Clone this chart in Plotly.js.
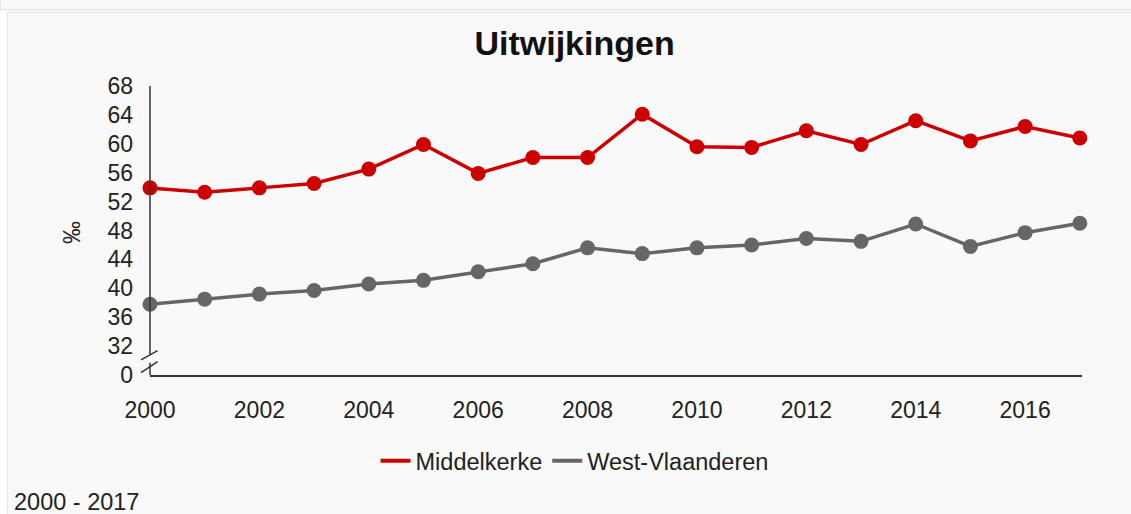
<!DOCTYPE html>
<html>
<head>
<meta charset="utf-8">
<script src="https://cdn.plot.ly/plotly-3.0.1.min.js"></script>
<style>
  html, body { margin: 0; padding: 0; background: #ffffff; width: 1131px; height: 514px; overflow: hidden; }
  #topstrip { position: absolute; left: 0; top: -12px; width: 1140px; height: 20px; background: #f9f9f9; border: 1px solid #e6e6e6; box-shadow: 0 1px 2px rgba(0,0,0,0.06); }
  #panel { position: absolute; left: 7px; top: 12px; width: 1140px; height: 520px; background: #f9f9f9; border: 1px solid #e6e6e6; box-shadow: 0 0 2px rgba(0,0,0,0.06); }
  #chart { position: absolute; left: 0; top: 0; width: 1131px; height: 514px; }
</style>
</head>
<body>
<div id="topstrip"></div>
<div id="panel"></div>
<div id="chart"></div>
<script>
const years = [2000, 2001, 2002, 2003, 2004, 2005, 2006, 2007, 2008, 2009, 2010, 2011, 2012, 2013, 2014, 2015, 2016, 2017];
const middelkerke = [53.9, 53.3, 53.9, 54.5, 56.5, 59.9, 55.9, 58.1, 58.1, 64.1, 59.6, 59.5, 61.8, 59.9, 63.2, 60.4, 62.4, 60.8];
const westVlaanderen = [37.8, 38.5, 39.2, 39.7, 40.6, 41.1, 42.3, 43.4, 45.6, 44.8, 45.6, 46.0, 46.9, 46.5, 48.9, 45.8, 47.7, 49.0];
const yTickVals = [28, 32, 36, 40, 44, 48, 52, 56, 60, 64, 68];
const yTickText = ['0', '32', '36', '40', '44', '48', '52', '56', '60', '64', '68'];
const seriesNames = ['Middelkerke', 'West-Vlaanderen'];
const titleText = 'Uitwijkingen';
const unitText = '‰';
const periodText = '2000 - 2017';

const FONT = '"Liberation Sans", Arial, sans-serif';
const RED = '#cc0000';
const GREY = '#666666';
const AXIS = '#333333';

const traces = [
  { x: years, y: middelkerke, name: seriesNames[0], type: 'scatter', mode: 'lines+markers', showlegend: false,
    line: { color: RED, width: 3.5 }, marker: { color: RED, size: 15 }, cliponaxis: false },
  { x: years, y: westVlaanderen, name: seriesNames[1], type: 'scatter', mode: 'lines+markers', showlegend: false,
    line: { color: GREY, width: 3.5 }, marker: { color: GREY, size: 15 }, cliponaxis: false },
  // legend entries (line only, as in the reference legend)
  { x: [null], y: [null], name: seriesNames[0], type: 'scatter', mode: 'lines', line: { color: RED, width: 4 } },
  { x: [null], y: [null], name: seriesNames[1], type: 'scatter', mode: 'lines', line: { color: GREY, width: 4 } }
];

const layout = {
  width: 1131, height: 514,
  paper_bgcolor: 'rgba(0,0,0,0)', plot_bgcolor: 'rgba(0,0,0,0)',
  margin: { l: 150, r: 49, t: 86, b: 139 },
  font: { family: FONT, size: 23, color: '#222222' },
  title: { text: '<b>' + titleText + '</b>', font: { family: FONT, size: 34, color: '#111111' },
           xref: 'container', x: 0.508, xanchor: 'center', yref: 'container', y: 1 - 43 / 514, yanchor: 'middle' },
  showlegend: true,
  legend: { orientation: 'h', xref: 'container', x: 0.508, xanchor: 'center', yref: 'container', y: 1 - 461 / 514, yanchor: 'middle',
            font: { family: FONT, size: 23.5, color: '#222222' }, bgcolor: 'rgba(0,0,0,0)', itemwidth: 30, tracegroupgap: 0 },
  xaxis: { range: [2000, 2017.04], tick0: 2000, dtick: 2, showgrid: false, zeroline: false,
           showline: true, linecolor: AXIS, linewidth: 1.5, ticks: '', ticklabelstandoff: 14,
           tickfont: { family: FONT, size: 23, color: '#222222' }, fixedrange: true },
  yaxis: { range: [28, 68], tickvals: yTickVals, ticktext: yTickText, showgrid: false, zeroline: false,
           showline: false, ticks: '', ticklabelstandoff: 16,
           tickfont: { family: FONT, size: 23, color: '#222222' }, fixedrange: true },
  shapes: [
    { type: 'line', xref: 'paper', yref: 'y', x0: 0, x1: 0, y0: 68, y1: 30.8, line: { color: AXIS, width: 1.5 }, layer: 'above' },
    { type: 'line', xref: 'paper', yref: 'y', x0: 0, x1: 0, y0: 29.7, y1: 28, line: { color: AXIS, width: 1.5 }, layer: 'above' },
    { type: 'line', xref: 'paper', yref: 'y', x0: -9 / 932, x1: 7.6 / 932, y0: 30.08, y1: 31.38, line: { color: AXIS, width: 1.5 }, layer: 'above' },
    { type: 'line', xref: 'paper', yref: 'y', x0: -9 / 932, x1: 7.6 / 932, y0: 28.32, y1: 29.85, line: { color: AXIS, width: 1.5 }, layer: 'above' }
  ],
  annotations: [
    { text: unitText, xref: 'paper', yref: 'paper', x: (72 - 150) / 932, y: (375 - 233) / 289, xanchor: 'center', yanchor: 'middle',
      textangle: -90, showarrow: false, font: { family: FONT, size: 23, color: '#222222' } },
    { text: periodText, xref: 'paper', yref: 'paper', x: (12 - 150) / 932, y: (375 - 502) / 289, xanchor: 'left', yanchor: 'middle',
      showarrow: false, font: { family: FONT, size: 23.5, color: '#222222' } }
  ]
};

Plotly.newPlot('chart', traces, layout, { displayModeBar: false, staticPlot: true });
</script>
</body>
</html>
